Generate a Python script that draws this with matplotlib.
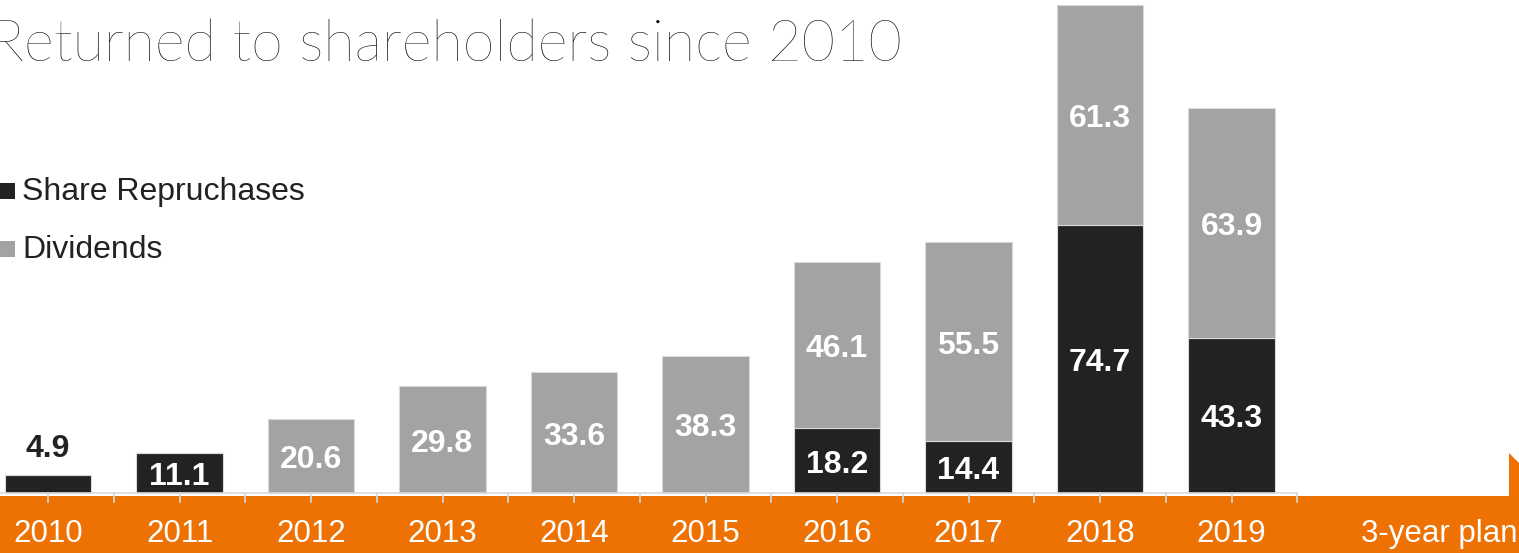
import numpy as np
import matplotlib
matplotlib.use("Agg")
import matplotlib.pyplot as plt
from matplotlib.patches import Polygon, Rectangle

# values in $bn
years = ["2010", "2011", "2012", "2013", "2014", "2015", "2016", "2017", "2018", "2019"]
buybacks = [4.9, 11.1, 0, 0, 0, 0, 18.2, 14.4, 74.7, 43.3]
dividends = [0, 0, 20.6, 29.8, 33.6, 38.3, 46.1, 55.5, 61.3, 63.9]
plan_label = "3-year plan"

DARK = "#222222"
GREY = "#a3a3a3"
ORANGE = "#ee7203"
LINE = "#d9d9d9"
SANS = ["Liberation Sans", "DejaVu Sans"]

W, H = 1519, 553
fig = plt.figure(figsize=(W / 100, H / 100), dpi=100)
ax = fig.add_axes([0, 0, 1, 1])

# pixel helpers for the decoration outside the data area
def fx(px):
    return px / W

def fy(py):
    return 1 - py / H

x = np.arange(len(years))
b = np.array(buybacks)
d = np.array(dividends)

ax.bar(x, b, width=0.66, color=DARK, edgecolor=LINE, linewidth=0.8, zorder=3)
ax.bar(x, d, bottom=b, width=0.66, color=GREY, edgecolor=LINE, linewidth=0.8, zorder=3)

lab = dict(family=SANS, fontsize=23, fontweight="bold", ha="center", va="center",
           textcoords="offset points", zorder=5)
for i in range(len(years)):
    if b[i] > 0:
        if b[i] < 8:
            ax.annotate(f"{b[i]:.1f}", (x[i], b[i]), xytext=(0, 19), color=DARK, **lab)
        else:
            ax.annotate(f"{b[i]:.1f}", (x[i], b[i] / 2), xytext=(0, -3), color="white", **lab)
    if d[i] > 0:
        ax.annotate(f"{d[i]:.1f}", (x[i], b[i] + d[i] / 2), xytext=(0, -3), color="white", **lab)

# pixel scale: category centres 131.5 px apart, first at 48 px; baseline at 493 px
step = 131.5
ppu = 3.588
ax.set_xlim((0 - 48) / step, (W - 48) / step)
ax.set_ylim(-(H - 493) / ppu, 493 / ppu)
ax.axis("off")

# orange band with arrow head at the right
band = Polygon([(fx(0), fy(496)), (fx(1509), fy(496)), (fx(1509), fy(453)),
                (fx(1609), fy(553)), (fx(0), fy(553))],
               closed=True, transform=fig.transFigure, facecolor=ORANGE,
               edgecolor="none", zorder=1, clip_on=False)
ax.add_patch(band)

# category axis line and ticks
ax.plot([-0.6, len(years) - 0.5], [0, 0], color=LINE, lw=1.2, zorder=4, clip_on=False)
for t in np.arange(-0.5, len(years), 0.5):
    ax.plot([t, t], [0, -9 / ppu], color=LINE, lw=1.2, zorder=4)

tick = dict(family=SANS, fontsize=22.5, color="white", ha="center", va="center", zorder=5)
for i, yr in enumerate(years):
    ax.text(x[i], -41 / ppu, yr, **tick)
ax.text(10.58, -41 / ppu, plan_label, **tick)

# legend
for py, c, name in [(191, DARK, "Share Repruchases"), (249, GREY, "Dividends")]:
    ax.add_patch(Rectangle((fx(0), fy(py + 8)), 15 / W, 16 / H, transform=fig.transFigure,
                           facecolor=c, edgecolor="none", clip_on=False))
    fig.text(fx(22), fy(py + 1), name, family=SANS, fontsize=23, color=DARK,
             ha="left", va="center")

fig.text(fx(-10), fy(61), "Returned to shareholders since 2010",
         family=["Lato", "Open Sans", "DejaVu Sans"], fontweight="light", fontsize=41.5,
         color="#000000", ha="left", va="baseline")

fig.savefig("out.png", dpi=100)
